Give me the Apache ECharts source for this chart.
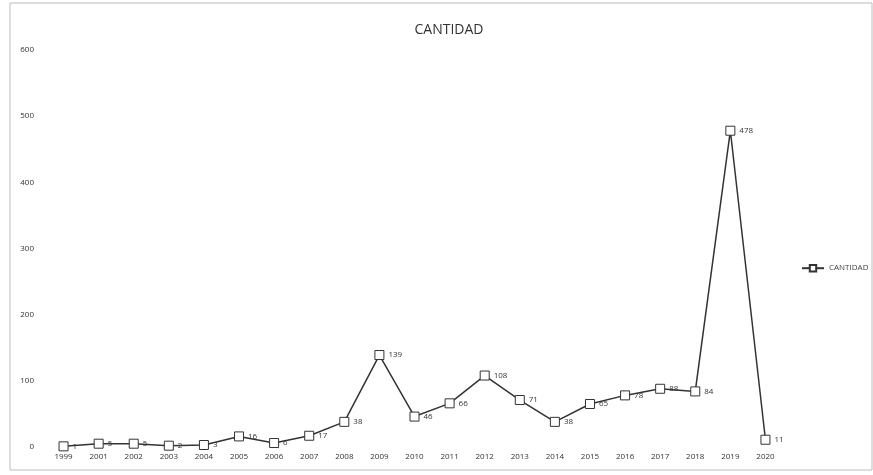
<!DOCTYPE html>
<html><head><meta charset="utf-8">
<script src="https://cdn.jsdelivr.net/npm/echarts@6/dist/echarts.min.js"></script>
<style>html,body{margin:0;padding:0;background:#fff}#c{width:873px;height:475px}</style>
</head><body><div id="c"></div>
<script>
var years = ['1999','2001','2002','2003','2004','2005','2006','2007','2008','2009','2010','2011','2012','2013','2014','2015','2016','2017','2018','2019','2020'];
var cantidad = [1,5,5,2,3,16,6,17,38,139,46,66,108,71,38,65,78,88,84,478,11];
var yTicks = [0,100,200,300,400,500,600];

var chart = echarts.init(document.getElementById('c'));
chart.setOption({
  backgroundColor: '#fff',
  animation: false,
  title: {text: 'CANTIDAD', left: 444, top: 18, textAlign: 'center',
    textStyle: {fontFamily: 'Open Sans', fontSize: 14, fontWeight: 500, color: '#333'}},
  legend: {orient: 'vertical', left: 796, top: 259, itemWidth: 22, itemHeight: 8, itemGap: 4,
    textStyle: {fontFamily: 'Open Sans', fontSize: 8, color: '#444'},
    data: ['CANTIDAD']},
  grid: {left: 46, right: 90, top: 50, bottom: 28},
  xAxis: {type: 'category', data: years, boundaryGap: true,
    axisLine: {show: false}, axisTick: {show: false},
    axisLabel: {fontFamily: 'Open Sans', fontSize: 8, color: '#333', margin: 6}},
  yAxis: {type: 'value', min: yTicks[0], max: yTicks[yTicks.length-1], interval: 100,
    axisLine: {show: false}, axisTick: {show: false}, splitLine: {show: false},
    axisLabel: {fontFamily: 'Open Sans', fontSize: 8, color: '#333', margin: 12}},
  series: [{name: 'CANTIDAD', type: 'line', data: cantidad,
    symbol: 'rect', symbolSize: 9, showAllSymbol: true,
    lineStyle: {color: '#333', width: 1.5},
    itemStyle: {color: '#fff', borderColor: '#333', borderWidth: 1},
    label: {show: true, position: 'right', distance: 4, fontFamily: 'Open Sans', fontSize: 8, color: '#333'}}],
  graphic: [{type: 'rect', shape: {x: 10, y: 3, width: 862, height: 467},
    style: {fill: 'none', stroke: '#bbb', lineWidth: 1}}]
});
</script></body></html>
